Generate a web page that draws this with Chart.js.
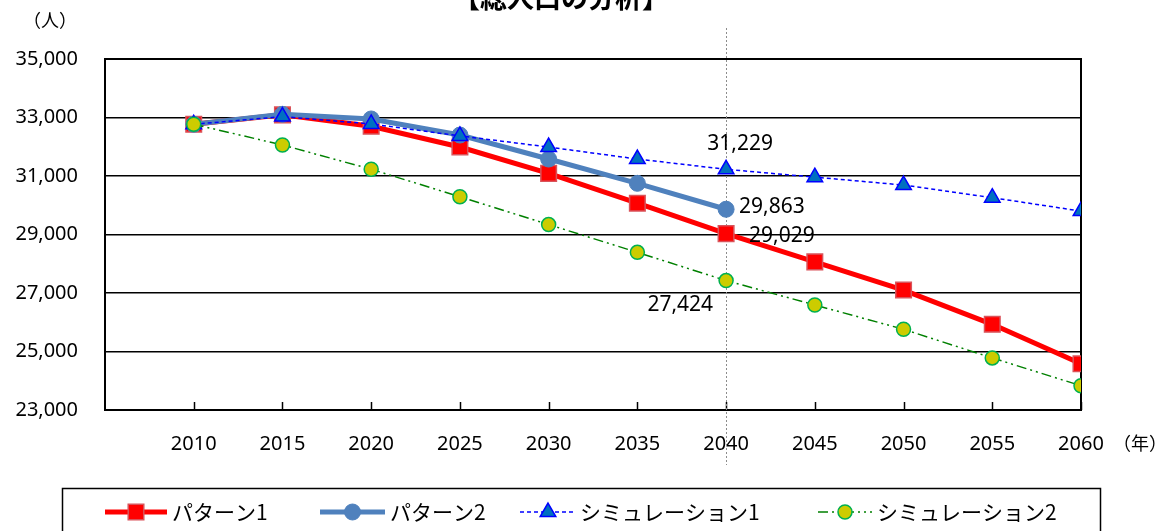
<!DOCTYPE html>
<html>
<head>
<meta charset="utf-8">
<script src="https://cdn.jsdelivr.net/npm/chart.js@4.4.0/dist/chart.umd.min.js"></script>
<style>
  html, body { margin: 0; padding: 0; background: #fff; }
  #wrap { width: 1164px; height: 531px; }
</style>
</head>
<body>
<div id="wrap"><canvas id="chart" width="1164" height="531"></canvas></div>
<script>
const years = [2010, 2015, 2020, 2025, 2030, 2035, 2040, 2045, 2050, 2055, 2060];
const pattern1 = [32768, 33090, 32700, 31990, 31090, 30070, 29029, 28065, 27100, 25930, 24580];
const pattern2 = [32768, 33110, 32950, 32400, 31580, 30750, 29863];
const sim1 = [32768, 33030, 32780, 32370, 31990, 31580, 31229, 30960, 30690, 30260, 29800];
const sim2 = [32768, 32060, 31230, 30290, 29340, 28390, 27424, 26590, 25760, 24780, 23830];
const yTicks = [23000, 25000, 27000, 29000, 31000, 33000, 35000];
const seriesNames = ["パターン1", "パターン2", "シミュレーション1", "シミュレーション2"];
const markYear = 2040;

const NUM_FONT = "'Noto Sans', sans-serif";
const JP_FONT = "'Noto Sans CJK JP', sans-serif";

function pts(vals) {
  return vals.map((v, i) => ({ x: years[i], y: v }));
}
const fmt = v => v.toLocaleString("en-US");

const datasets = [
  {
    label: seriesNames[0], data: pts(pattern1), order: 3,
    borderColor: "#ff0000", borderWidth: 5,
    pointStyle: "rect", pointRadius: 11, pointBackgroundColor: "#ff0000",
    pointBorderColor: "#d9535a", pointBorderWidth: 1.5
  },
  {
    label: seriesNames[1], data: pts(pattern2), order: 2,
    borderColor: "#4f81bd", borderWidth: 5,
    pointStyle: "circle", pointRadius: 8, pointBackgroundColor: "#4f81bd",
    pointBorderColor: "#4f81bd", pointBorderWidth: 1
  },
  {
    label: seriesNames[2], data: pts(sim1), order: 1,
    borderColor: "#0000ff", borderWidth: 1.5, borderDash: [4, 3],
    pointStyle: "triangle", pointRadius: 9, pointBackgroundColor: "#0070c0",
    pointBorderColor: "#0000ff", pointBorderWidth: 1.5
  },
  {
    label: seriesNames[3], data: pts(sim2), order: 0,
    borderColor: "#008000", borderWidth: 1.5, borderDash: [10, 4, 2, 4, 2, 4],
    pointStyle: "circle", pointRadius: 7, pointBackgroundColor: "#cccc00",
    pointBorderColor: "#00b050", pointBorderWidth: 1.5
  }
];

// value labels at 2040: [dataset index, dx, dy, align]
const valueLabels = [
  [2, 14, -25, "center"],
  [1, 13, -2, "left"],
  [0, 23, 2, "left"],
  [3, -13, 24, "right"]
];

const decor = {
  id: "decor",
  beforeDatasetsDraw(chart) {
    const { ctx, chartArea: a, scales: { x } } = chart;
    ctx.save();
    ctx.strokeStyle = "#000";
    ctx.lineWidth = 2;
    ctx.strokeRect(a.left, a.top, a.right - a.left, a.bottom - a.top);
    ctx.lineWidth = 1.5;
    years.forEach(yr => {
      const px = Math.round(x.getPixelForValue(yr)) + 0.5;
      ctx.beginPath();
      ctx.moveTo(px, a.bottom);
      ctx.lineTo(px, a.bottom - 8);
      ctx.stroke();
    });
    const mx = Math.round(x.getPixelForValue(markYear)) + 0.5;
    ctx.strokeStyle = "#8c8c8c";
    ctx.lineWidth = 1;
    ctx.setLineDash([2, 2]);
    ctx.beginPath();
    ctx.moveTo(mx, 28);
    ctx.lineTo(mx, 465);
    ctx.stroke();
    ctx.restore();
  },
  afterDatasetsDraw(chart) {
    const { ctx } = chart;
    const idx = years.indexOf(markYear);
    ctx.save();
    ctx.fillStyle = "#000";
    ctx.font = "21px " + NUM_FONT;
    ctx.textBaseline = "middle";
    valueLabels.forEach(([di, dx, dy, align]) => {
      const p = chart.getDatasetMeta(di).data[idx];
      const v = chart.data.datasets[di].data[idx].y;
      ctx.textAlign = align;
      ctx.fillText(fmt(v), p.x + dx, p.y + dy);
    });
    ctx.restore();
  },
  afterDraw(chart) {
    const { ctx } = chart;
    ctx.save();
    ctx.fillStyle = "#000";
    ctx.font = "bold 27px " + JP_FONT;
    ctx.textAlign = "center";
    ctx.textBaseline = "bottom";
    ctx.fillText("【総人口の分析】", 561, 11);
    ctx.font = "18px " + JP_FONT;
    ctx.textBaseline = "middle";
    ctx.fillText("（人）", 50, 20);
    ctx.fillText("（年）", 1140, 443);
    ctx.strokeStyle = "#000";
    ctx.lineWidth = 1.5;
    ctx.strokeRect(62.5, 488.5, 1038, 60);
    const items = [
      { x0: 105, x1: 167, tx: 172 },
      { x0: 320, x1: 385, tx: 390 },
      { x0: 520, x1: 576, tx: 580 },
      { x0: 818, x1: 872, tx: 877 }
    ];
    const ly = 512;
    items.forEach((it, i) => {
      const ds = chart.data.datasets[i];
      ctx.save();
      ctx.strokeStyle = ds.borderColor;
      ctx.lineWidth = ds.borderWidth;
      ctx.setLineDash(ds.borderDash || []);
      ctx.beginPath();
      ctx.moveTo(it.x0, ly);
      ctx.lineTo(it.x1, ly);
      ctx.stroke();
      ctx.setLineDash([]);
      ctx.fillStyle = ds.pointBackgroundColor;
      ctx.strokeStyle = ds.pointBorderColor;
      ctx.lineWidth = ds.pointBorderWidth;
      Chart.helpers.drawPoint(ctx, {
        pointStyle: ds.pointStyle, radius: ds.pointRadius, rotation: 0,
        borderWidth: ds.pointBorderWidth
      }, (it.x0 + it.x1) / 2, ly);
      ctx.restore();
      ctx.fillStyle = "#000";
      ctx.font = "21px " + JP_FONT;
      ctx.textAlign = "left";
      ctx.textBaseline = "middle";
      ctx.fillText(ds.label, it.tx, ly);
    });
    ctx.restore();
  }
};

new Chart(document.getElementById("chart"), {
  type: "line",
  data: { datasets },
  options: {
    responsive: false,
    animation: false,
    events: [],
    layout: { padding: { left: 0, right: 83, top: 59, bottom: 0 } },
    plugins: { legend: { display: false }, tooltip: { enabled: false } },
    elements: { line: { tension: 0 } },
    scales: {
      x: {
        type: "linear", min: 2005, max: 2060,
        afterBuildTicks: s => { s.ticks = years.map(v => ({ value: v })); },
        afterFit: s => { s.height = 121; },
        grid: { display: false, drawTicks: false },
        border: { display: false },
        ticks: {
          padding: 22, color: "#000", maxRotation: 0, autoSkip: false,
          font: { family: NUM_FONT, size: 20 },
          callback: v => String(v)
        }
      },
      y: {
        min: 23000, max: 35000,
        afterBuildTicks: s => { s.ticks = yTicks.map(v => ({ value: v })); },
        afterFit: s => { s.width = 105; },
        grid: { color: "#000", lineWidth: 1.5, drawTicks: false },
        border: { display: false },
        ticks: {
          padding: 27, color: "#000",
          font: { family: NUM_FONT, size: 20 },
          callback: v => fmt(v)
        }
      }
    }
  },
  plugins: [decor]
});
</script>
</body>
</html>
